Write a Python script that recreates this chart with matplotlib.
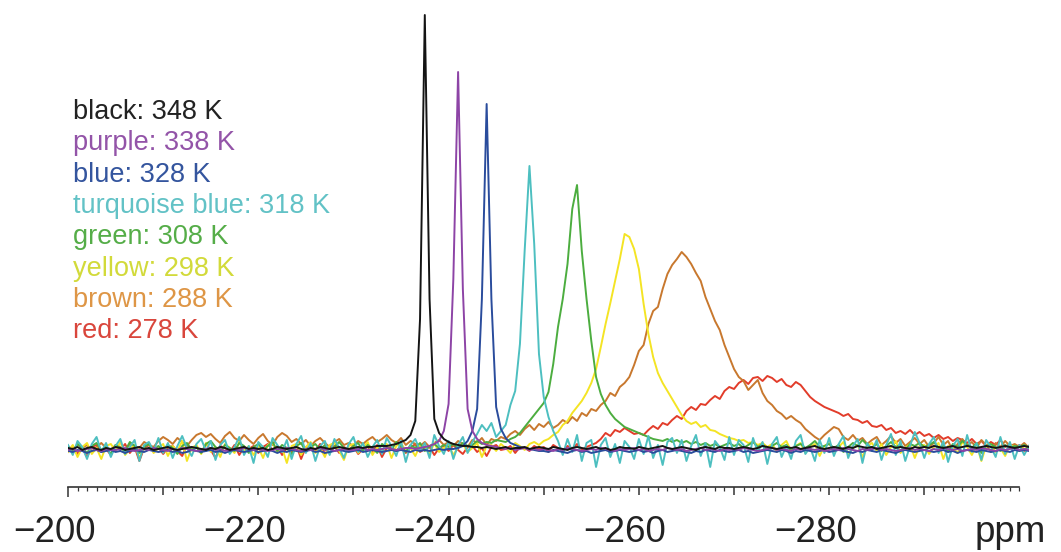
import numpy as np
import matplotlib.pyplot as plt
from matplotlib.ticker import FixedLocator, MultipleLocator

# =========================
# DATA (intensity above baseline, 0.5 ppm steps from -200 to -301)
# =========================

ppm = np.linspace(-200, -301, 203)

black = [
    1, 0, 2, -1, 1, 2, 0, -1, 1, 0, 2, 1, -1, 0, 1, 2, 0, 1, -1, 0,
    1, 2, 0, -1, 0, 1, 2, 1, 0, -1, 1, 0, 2, 1, -1, 0, 1, 2, 0, 1,
    0, 1, -1, 0, 2, 1, 0, 1, 2, 0, -1, 1, 0, 2, 1, 0, 1, 2, 1, 0,
    1, 2, 1, 2, 2, 3, 3, 3, 4, 5, 7, 9, 14, 28, 130, 434, 150, 30, 16, 10,
    7, 5, 4, 3, 3, 2, 2, 1, 2, 1, 0, 1, 2, 0, 1, 1, 2, 0, 1, 2,
    1, 0, 2, 1, 0, -1, 1, 2, 1, 0, 1, 2, 0, 1, -1, 0, 2, 1, 1, 0,
    2, 1, 0, 1, 2, 3, 1, 0, 1, 2, 1, 0, -1, 1, 2, 1, 0, 2, 1, 1,
    0, 1, 2, 1, 0, 1, 3, 2, 1, 0, 1, 2, 1, 2, 0, 1, 2, 3, 1, 0,
    1, 2, 1, 0, 2, 1, 3, 2, 1, 2, 0, 1, 2, 3, 1, 2, 1, 0, 2, 1,
    2, 1, 3, 2, 1, 2, 3, 1, 2, 3, 2, 1, 2, 3, 2, 1, 2, 3, 2, 1,
    2, 3, 2,
]

purple = [
    -1, 0, -2, -1, 0, 1, -1, -2, 0, -1, -1, 0, 1, -1, -2, -1, 0, -1, 1, 0,
    -1, -2, 0, -1, 1, 0, -1, -2, -1, 0, 1, -1, 0, -2, -1, 0, -1, 1, 0, -1,
    0, -1, -2, -1, 0, -1, 1, 0, -1, -2, 0, -1, 0, 1, -1, 0, -2, -1, 0, -1,
    -1, 0, 1, -1, 0, -1, 0, 1, 0, -1, 0, 1, 1, 0, 1, 2, 3, 5, 8, 18,
    45, 170, 377, 160, 40, 18, 10, 6, 4, 3, 2, 1, 0, 1, -1, 0, 1, -1, 0, -1,
    0, -1, -2, 0, -1, 1, 0, -1, -2, -1, 0, -1, 1, 0, -1, -2, 0, -1, 0, 1,
    -1, 0, -2, -1, 0, -1, 1, 0, -1, 0, -2, -1, 0, 1, -1, 0, -1, -2, 0, -1,
    0, -1, 1, 0, -1, -2, -1, 0, 1, -1, 0, -1, -2, 0, -1, 1, 0, -1, 0, -2,
    -1, 0, -1, 1, 0, -1, -2, 0, -1, 0, 1, -1, 0, -1, -2, -1, 0, 1, -1, 0,
    -1, -2, 0, -1, 1, 0, -1, 0, -2, -1, 0, -1, 1, 0, -1, -2, 0, -1, 0, 1,
    -1, 0, -1,
]

blue = [
    -2, -3, -1, -2, -4, -2, -1, -3, -2, -1, -3, -2, -4, -2, -1, -2, -3, -1, -2, -3,
    -2, -1, -3, -2, -4, -3, -1, -2, -3, -2, -1, -3, -2, -4, -2, -1, -2, -3, -2, -1,
    -3, -2, -1, -2, -4, -2, -3, -1, -2, -3, -2, -1, -3, -2, -4, -3, -2, -1, -2, -3,
    -2, -1, -3, -2, -1, -2, -3, -2, -1, -2, -1, -2, -3, -1, -2, -1, -2, -1, 0, -1,
    0, 0, 1, 3, 8, 18, 40, 150, 345, 150, 42, 20, 11, 6, 4, 2, 1, 0, -1, -2,
    -2, -3, -1, -2, -3, -4, -2, -1, -3, -2, -4, -3, -2, -1, -3, -2, -1, -2, -3, -2,
    -1, -3, -2, -4, -2, -1, -3, -2, -1, -2, -3, -4, -2, -3, -1, -2, -3, -1, -2, -3,
    -2, -1, -3, -2, -4, -3, -2, -1, -2, -3, -1, -2, -4, -2, -3, -1, -2, -3, -2, -1,
    -3, -2, -1, -2, -3, -4, -2, -3, -1, -2, -3, -1, -2, -3, -4, -2, -1, -2, -3, -2,
    -1, -2, -3, -2, -1, -3, -2, -4, -2, -1, -2, -3, -1, -2, -3, -2, -1, -2, -3, -1,
    -2, -1, -2,
]

turquoise = [
    4, -6, 8, 2, -10, 5, 12, -3, 6, -8, 3, 10, -5, 2, 9, -12, 4, 7, -2, 11,
    -4, 6, -9, 3, 13, 1, -7, 5, 10, -2, 8, -11, 4, 9, -5, 2, 12, -6, 3, -14,
    7, 2, -8, 11, 4, -3, 9, -10, 5, 13, -4, 6, -12, 3, 8, -6, 10, 1, -9, 5,
    12, -3, 6, -8, 2, 9, -5, 11, 3, -7, 8, -13, 4, 10, -2, 6, -9, 14, 3, -5,
    8, -10, 4, 12, -4, 7, 15, 24, 18, 26, 12, 18, 24, 44, 58, 105, 199, 283, 205, 95,
    52, 32, 18, 8, -6, 10, -3, 14, -12, 6, 9, -18, 4, 11, -8, 5, -14, 8, 2, -10,
    10, -5, 13, -9, 4, -16, 7, 11, -4, 9, -12, 3, 14, -7, 6, -18, 8, 2, -11, 12,
    -6, 9, 4, -13, 11, -3, 7, -15, 5, 12, -8, 3, -10, 8, 14, -5, 2, -12, 9, -4,
    11, -7, 5, 13, -9, 3, 10, -14, 6, -2, 9, -11, 4, 15, -6, 8, -12, 3, 17, 6,
    -9, 5, 12, -4, 8, -13, 3, 10, -7, 14, -3, 6, -11, 9, 2, -8, 12, -5, 7, -10,
    4, -6, 3,
]

green = [
    2, -3, 5, 1, -4, 3, 6, -1, 2, -5, 4, 1, -2, 7, 3, -4, 2, 5, -1, 3,
    -2, 4, 1, -5, 3, 6, -1, 2, -4, 5, 8, 2, -3, 4, 1, -2, 6, 3, -4, 2,
    5, -1, 3, 7, -2, 4, 1, -5, 3, 6, -3, 2, 5, -1, 4, -4, 2, 7, 1, -2,
    3, 6, -2, 4, 1, -4, 5, 2, -1, 7, 3, -3, 4, 1, 6, -2, 3, 5, 1, 4,
    2, 5, 1, 6, 3, 4, 8, 5, 7, 6, 9, 8, 7, 10, 12, 16, 22, 28, 34, 40,
    46, 57, 85, 122, 150, 185, 240, 264, 198, 150, 108, 72, 55, 44, 36, 30, 26, 22, 20, 18,
    16, 14, 12, 10, 9, 8, 10, 7, 9, 6, 8, 5, 7, 4, 6, 3, 5, 2, 4, 6,
    3, 5, 1, 4, 7, 2, 5, -1, 3, 6, 2, 4, -2, 3, 5, 1, 4, 8, 2, 3,
    5, 1, 4, -3, 2, 6, 3, 9, 4, 1, 5, -2, 3, 7, 2, 4, -1, 5, 3, 6,
    2, 4, 7, 1, 3, -3, 5, 2, 8, 4, 1, 6, -4, 3, 5, 2, -2, 4, 1, 3,
    2, 4, 1,
]

yellow = [
    -3, 4, -8, 2, 6, -5, 1, -10, 3, 5, -2, 7, -6, 0, 4, -9, 2, 6, -4, 1,
    5, -7, 3, -2, 8, -12, 1, 4, -5, 6, -3, 2, -8, 5, 1, -4, 7, -2, 3, -6,
    2, -9, 4, 6, -3, 1, -14, 3, 5, -6, 2, 7, -4, 1, -8, 4, 6, -2, -11, 3,
    5, -4, 1, 7, -6, 2, -3, 5, -9, 3, 6, -2, 1, -7, 4, 2, -5, 6, -3, 1,
    4, -6, 2, 5, -3, 1, 6, -8, 3, 4, -2, 5, 1, -4, 6, 3, -1, 5, 7, 4,
    8, 10, 14, 17, 24, 28, 36, 42, 48, 56, 66, 80, 102, 125, 146, 168, 190, 215, 212, 200,
    180, 145, 115, 92, 76, 66, 58, 50, 42, 34, 28, 25, 27, 22, 24, 19, 18, 15, 13, 11,
    10, 8, 9, 6, 7, 4, 6, 2, 5, -3, 4, 8, -2, 3, 6, -4, 2, 5, -7, 3,
    6, -3, 2, 7, -5, 1, 4, -8, 3, 6, -2, 5, -6, 2, 8, -4, 1, 5, -9, 3,
    4, -5, 2, 6, -10, 3, 1, -4, 7, 2, -6, 4, -12, 3, 5, -3, 1, -7, 4, 2,
    -2, 3, 1,
]

brown = [
    3, -2, 5, 1, 4, -3, 2, 6, 1, -1, 4, 2, -2, 5, 3, 1, 7, 4, 2, 8,
    12, 9, 5, 11, 7, 3, 9, 14, 16, 12, 15, 10, 6, 13, 17, 11, 8, 14, 9, 5,
    11, 15, 8, 4, 12, 16, 13, 7, 10, 5, 9, 3, 8, 11, 6, 2, 7, 10, 4, 6,
    3, 8, 5, 9, 12, 7, 10, 14, 9, 6, 11, 4, 8, 5, 3, 7, 2, 6, 9, 4,
    7, 3, 8, 5, 2, 9, 6, 11, 4, 10, 8, 12, 10, 15, 18, 14, 20, 24, 19, 25,
    22, 27, 21, 24, 29, 26, 32, 28, 36, 33, 40, 38, 44, 48, 56, 53, 62, 66, 72, 84,
    98, 104, 125, 138, 142, 160, 175, 184, 190, 197, 192, 185, 176, 168, 152, 140, 128, 119, 104, 92,
    80, 72, 68, 59, 64, 69, 56, 48, 44, 38, 35, 30, 33, 29, 26, 20, 16, 12, 9, 14,
    18, 22, 20, 12, 9, 14, 8, 11, 5, 9, 12, 4, 8, 13, 6, 10, 3, 7, 11, 5,
    9, 2, 6, 12, 4, 8, -2, 5, 10, 3, 7, 1, 9, 4, -3, 6, 2, 8, 3, 5,
    2, 6, 1,
]

red = [
    -2, 3, -5, 1, -8, 2, 4, -3, 0, -6, 3, -1, 5, -4, 2, -12, 1, 4, -3, 2,
    -5, 1, 3, -2, -7, 4, 0, 2, -4, 5, -1, -9, 3, 1, -3, 4, -6, 2, 0, 3,
    -4, 2, 5, -1, 3, -6, 1, -3, 4, -10, 2, 0, -2, 5, -5, 1, 3, -4, 2, -1,
    3, -5, 0, 2, -3, 4, -8, 1, 2, -2, 3, -4, 1, 5, -3, 0, 2, -6, 1, 3,
    -2, 4, -1, -5, 2, 3, -3, 1, -7, 2, 4, -1, 0, 3, -4, 2, 1, -2, 3, 0,
    2, -3, 4, 1, -2, 3, 0, 5, -1, 2, 4, 6, 10, 16, 13, 19, 17, 21, 18, 15,
    16, 14, 19, 23, 20, 26, 24, 29, 33, 30, 38, 42, 39, 45, 44, 49, 53, 50, 58, 62,
    60, 66, 69, 65, 71, 72, 68, 73, 71, 67, 70, 64, 62, 67, 64, 58, 52, 48, 45, 42,
    40, 38, 36, 33, 35, 30, 29, 26, 28, 23, 22, 24, 19, 21, 16, 18, 15, 19, 14, 17,
    13, 15, 11, 14, 10, 12, 8, 11, 9, 6, 10, 5, 8, 3, 7, 4, 9, 2, 5, 1,
    4, -2, 3,
]

names = ["black", "purple", "blue", "turquoise blue", "green", "yellow", "brown", "red"]
temps = [348, 338, 328, 318, 308, 298, 288, 278]
spectra = [black, purple, blue, turquoise, green, yellow, brown, red]

line_colors = ["#141414", "#8d44a6", "#2a4c9c", "#4dbfc0", "#4cad3f", "#f4e424", "#c8782e", "#e23c2a"]
text_colors = ["#222222", "#9354a8", "#34559e", "#62c2c6", "#55ad48", "#d2da3a", "#de9646", "#d9463c"]

tick_vals = [-200, -220, -240, -260, -280]
tick_labels = ["\u2212200", "\u2212220", "\u2212240", "\u2212260", "\u2212280"]

# =========================
# FIGURE
# =========================

plt.rcParams["font.family"] = ["Liberation Sans", "DejaVu Sans"]

fig = plt.figure(figsize=(10.61, 5.52), dpi=100)
ax = fig.add_axes([0.0641, 0.1178, 0.9057, 0.8677])

# red first, black on top
for y, c in reversed(list(zip(spectra, line_colors))):
    ax.plot(ppm, y, color=c, lw=1.4, solid_joinstyle="round")

ax.set_xlim(-200, -301)
ax.set_ylim(-38, 441)

for side in ["top", "right", "left"]:
    ax.spines[side].set_visible(False)
ax.spines["bottom"].set_bounds(-200, -300)
ax.spines["bottom"].set_linewidth(1.2)
ax.spines["bottom"].set_color("#333333")

ax.set_yticks([])
ax.xaxis.set_major_locator(FixedLocator(np.arange(-200, -291, -10)))
ax.xaxis.set_minor_locator(FixedLocator(np.arange(-200, -301, -1)))
ax.tick_params(axis="x", which="major", length=5.8, width=1.1, color="#333333",
               labelbottom=False)
ax.tick_params(axis="x", which="minor", length=2.8, width=0.9, color="#333333")
ax.xaxis.get_major_ticks()[0].tick1line.set_markersize(7.5)

for v, lab in zip(tick_vals, tick_labels):
    ax.annotate(lab, xy=(v, 0), xycoords=ax.get_xaxis_transform(),
                xytext=(-14, -55), textcoords="offset pixels",
                ha="center", va="baseline", fontsize=26.5, color="#222222")

ax.annotate("ppm", xy=(-299.0, 0), xycoords=ax.get_xaxis_transform(),
            xytext=(0, -55), textcoords="offset pixels",
            ha="center", va="baseline", fontsize=26.5, color="#222222")

# =========================
# LEGEND TEXT
# =========================

for i, (n, t, c) in enumerate(zip(names, temps, text_colors)):
    fig.text(73 / 1061, 1 - (119 + 31.3 * i) / 552, f"{n}: {t} K",
             ha="left", va="baseline", fontsize=19.5, color=c)

plt.savefig("out.png", dpi=100)
